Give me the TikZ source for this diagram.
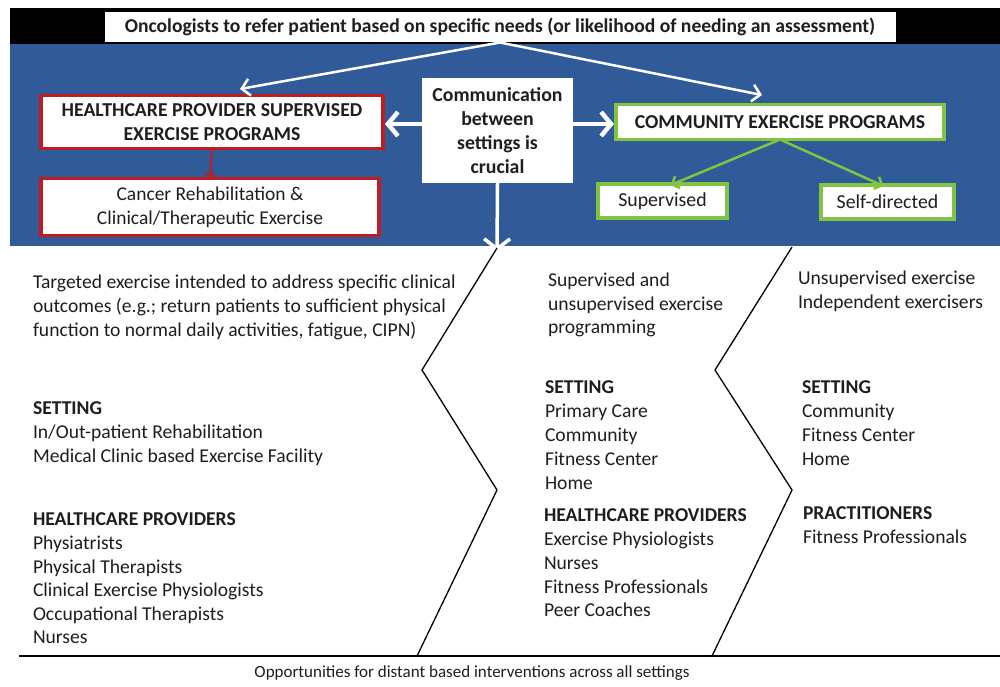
\documentclass[tikz,border=0pt]{standalone}
\usepackage{fontspec}
\setmainfont{Carlito}
\usetikzlibrary{arrows.meta}
\definecolor{bandblue}{RGB}{48,90,152}
\definecolor{boxred}{RGB}{192,28,36}
\definecolor{boxgreen}{RGB}{128,196,66}
\definecolor{ink}{RGB}{30,30,30}
\begin{document}
\begin{tikzpicture}[x=1pt,y=-1pt,
  every node/.style={inner sep=0pt, outer sep=0pt},
  redbox/.style={draw=boxred, line width=3.5pt, fill=white, align=center, text=ink},
  greenbox/.style={draw=boxgreen, line width=3.5pt, fill=white, align=center, text=ink},
  whitearrow/.style={draw=white, line width=2.5pt, -{Straight Barb[length=8pt,width=17pt,line width=2.5pt]}},
  fatarrow/.style={draw=white, line width=4.5pt, -{Straight Barb[length=10pt,width=24pt,line width=4.5pt]}},
  bodytext/.style={anchor=north west, align=left, text=ink, font=\fontsize{19.6}{24}\selectfont},
  zig/.style={draw=black, line width=1.3pt},
]
\useasboundingbox (0,0) rectangle (1000,686);
\fill[white] (0,0) rectangle (1000,686);
% bands
\fill[black] (10,8) rectangle (1000,44);
\fill[bandblue] (10,44) rectangle (1000,246);

% top box
\node[draw=black, line width=1pt, fill=white, minimum width=792pt, minimum height=31pt, font=\bfseries\fontsize{19.6}{20}\selectfont, text=ink] (top) at (500,27) {Oncologists to refer patient based on specific needs (or likelihood of needing an assessment)};

% boxes
\node[redbox, minimum width=342pt, minimum height=53pt, font=\bfseries\fontsize{19.7}{24}\selectfont] (hcp) at (212,122) {HEALTHCARE PROVIDER SUPERVISED\\EXERCISE PROGRAMS};
\node[redbox, minimum width=338pt, minimum height=57pt, font=\fontsize{19.5}{24}\selectfont] (rehab) at (210,207) {Cancer Rehabilitation \&\\Clinical/Therapeutic Exercise};
\node[fill=white, minimum width=151pt, minimum height=105pt, align=center, text=ink, font=\bfseries\fontsize{19.8}{24}\selectfont] (comm) at (497.5,130.5) {Communication\\between\\settings is\\crucial};
\node[greenbox, minimum width=328pt, minimum height=35pt, font=\bfseries\fontsize{19.7}{20}\selectfont] (cep) at (780,122) {COMMUNITY EXERCISE PROGRAMS};
\node[greenbox, minimum width=129pt, minimum height=34pt, font=\fontsize{19.8}{20}\selectfont] (sup) at (662.5,201) {Supervised};
\node[greenbox, minimum width=133pt, minimum height=34pt, font=\fontsize{19.8}{20}\selectfont] (self) at (887.5,202) {Self-directed};

% arrows
\coordinate (tipL) at (240,89);
\coordinate (tipR) at (762,95);
\coordinate (tipD) at (497,251);
\draw[whitearrow] (top.south) -- (tipL);
\draw[whitearrow] (top.south) -- (tipR);
\draw[fatarrow] (comm.west |- 0,124) -- ([xshift=2pt]hcp.east |- 0,124);
\draw[fatarrow] (comm.east |- 0,124) -- ([xshift=-2pt]cep.west |- 0,124);
\draw[draw=white, line width=3.5pt, -{Straight Barb[length=10pt,width=26pt,line width=3.5pt]}] (comm.south) -- (tipD);
\draw[draw=boxred, line width=2pt, -{Straight Barb[length=4pt,width=9pt,line width=2pt]}] (hcp.south) -- (rehab.north);
\draw[draw=boxgreen, line width=2.5pt, -{Straight Barb[length=6pt,width=13pt,line width=2.5pt]}] (cep.south) -- ([xshift=8pt,yshift=-1pt]sup.north);
\draw[draw=boxgreen, line width=2.5pt, -{Straight Barb[length=6pt,width=13pt,line width=2.5pt]}] (cep.south) -- ([xshift=-4pt,yshift=-1pt]self.north);

% zigzag separators
\coordinate (z1a) at (497,248);
\coordinate (z1b) at (422,370);
\coordinate (z1c) at (497,490);
\coordinate (z1d) at (417,656);
\coordinate (z2a) at (792,247);
\coordinate (z2b) at (715,370);
\coordinate (z2c) at (792,490);
\coordinate (z2d) at (712,656);
\draw[zig] (z1a) -- (z1b) -- (z1c) -- (z1d);
\draw[zig] (z2a) -- (z2b) -- (z2c) -- (z2d);
\coordinate (baseL) at (19,656);
\coordinate (baseR) at (1000,656);
\draw[zig] (baseL) -- (baseR);
\draw[draw=black, line width=2.5pt] (z1d) -- ++(86,0);
\draw[draw=black, line width=2.5pt] (z2d) -- ++(85,0);
\node[text=ink, font=\fontsize{17}{18}\selectfont] (opp) at (472,673) {Opportunities for distant based interventions across all settings};

% left column
\node[bodytext] (l1) at (33,275) {Targeted exercise intended to address specific clinical\\outcomes (e.g.; return patients to sufficient physical\\function to normal daily activities, fatigue, CIPN)};
\node[bodytext] (l2) at (33,402) {\textbf{SETTING}\\In/Out-patient Rehabilitation\\Medical Clinic based Exercise Facility};
\node[bodytext, font=\fontsize{19.6}{23.6}\selectfont] (l3) at (33,513) {\textbf{HEALTHCARE PROVIDERS}\\Physiatrists\\Physical Therapists\\Clinical Exercise Physiologists\\Occupational Therapists\\Nurses};

% middle column
\node[bodytext, font=\fontsize{19.6}{23.5}\selectfont] (m1) at (548,273) {Supervised and\\unsupervised exercise\\programming};
\node[bodytext] (m2) at (545,381) {\textbf{SETTING}\\Primary Care\\Community\\Fitness Center\\Home};
\node[bodytext, font=\fontsize{19.6}{23.75}\selectfont] (m3) at (544,509) {\textbf{HEALTHCARE PROVIDERS}\\Exercise Physiologists\\Nurses\\Fitness Professionals\\Peer Coaches};

% right column
\node[bodytext] (r1) at (798,271) {Unsupervised exercise\\Independent exercisers};
\node[bodytext] (r2) at (802,381) {\textbf{SETTING}\\Community\\Fitness Center\\Home};
\node[bodytext] (r3) at (803,507) {\textbf{PRACTITIONERS}\\Fitness Professionals};
\end{tikzpicture}
\end{document}
